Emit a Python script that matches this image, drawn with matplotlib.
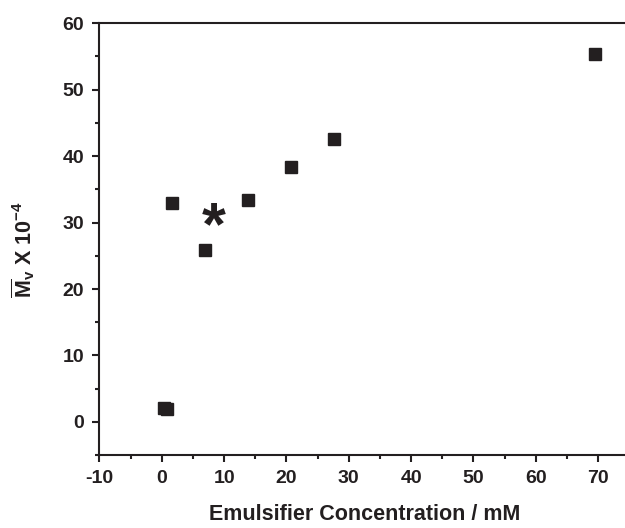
import matplotlib
matplotlib.use('Agg')
import matplotlib.pyplot as plt
from matplotlib.ticker import MultipleLocator

plt.rcParams['font.family'] = ['Liberation Sans', 'DejaVu Sans']
plt.rcParams['font.weight'] = 'bold'
plt.rcParams['axes.unicode_minus'] = False
plt.rcParams['mathtext.fontset'] = 'custom'
plt.rcParams['mathtext.rm'] = 'Liberation Sans:bold'
plt.rcParams['mathtext.bf'] = 'Liberation Sans:bold'
plt.rcParams['mathtext.it'] = 'Liberation Sans:bold'

# emulsifier concentration (mM) vs viscosity-average molecular weight (x 10^-4)
conc = [0.3, 0.8, 1.7, 7.0, 13.9, 20.8, 27.6, 69.5]
mv = [2.1, 1.9, 32.9, 25.8, 33.4, 38.4, 42.6, 55.4]
star_x, star_y = 8.4, 29.1

ink = '#231f20'

fig = plt.figure(figsize=(6.25, 5.28), dpi=100)
ax = fig.add_axes([0.159, 0.138, 0.848, 0.818])

ax.plot(conc, mv, linestyle='none', marker='s', ms=9, color=ink, mec=ink)
ax.text(star_x, star_y, '*', fontsize=44, fontweight='bold', color=ink,
        ha='center', va='center')

ax.set_xlim(-10, 75)
ax.set_ylim(-5, 60)
ax.xaxis.set_major_locator(MultipleLocator(10))
ax.xaxis.set_minor_locator(MultipleLocator(5))
ax.yaxis.set_major_locator(MultipleLocator(10))
ax.yaxis.set_minor_locator(MultipleLocator(5))

for s in ax.spines.values():
    s.set_linewidth(1.5)
    s.set_color(ink)
ax.tick_params(which='major', direction='out', length=5, width=1.5,
               labelsize=14, colors=ink, pad=6)
ax.tick_params(which='minor', direction='out', length=3, width=1.5, colors=ink)
for lab in ax.get_xticklabels() + ax.get_yticklabels():
    lab.set_fontweight('bold')

ax.set_xlabel('Emulsifier Concentration / mM', fontsize=15.5, fontweight='bold',
              color=ink, labelpad=12)
ax.set_ylabel(r'$\overline{\mathbf{M}}_{\mathbf{v}}$ X 10$^{-4}$', fontsize=15.5,
              fontweight='bold', color=ink)
ax.yaxis.set_label_coords(-0.118, 0.475)

fig.savefig('out.png', dpi=100)
